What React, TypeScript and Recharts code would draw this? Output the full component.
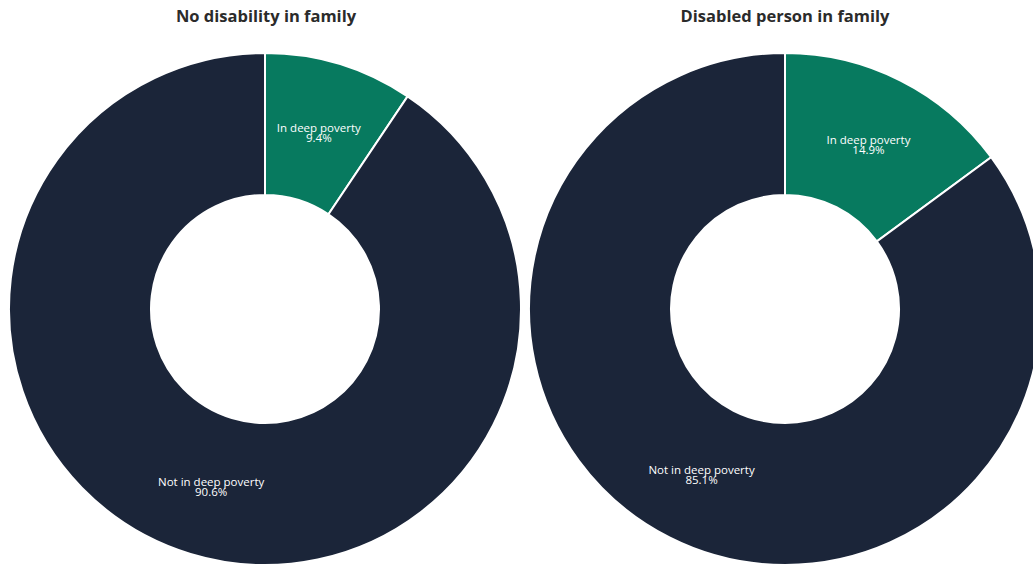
import React from 'react';
import { PieChart, Pie, Cell } from 'recharts';

const categories = ['In deep poverty', 'Not in deep poverty'];
const noDisabilityValues = [9.4, 90.6];
const disabledValues = [14.9, 85.1];
const chartTitles = ['No disability in family', 'Disabled person in family'];

const colors = ['#077a5f', '#1b2539'];

const noDisabilityData = categories.map((name, i) => ({ name, value: noDisabilityValues[i] }));
const disabledData = categories.map((name, i) => ({ name, value: disabledValues[i] }));

const RADIAN = Math.PI / 180;

// two-line label sitting halfway between inner and outer radius
const renderLabel = (props: any) => {
  const { cx, cy, midAngle, innerRadius, outerRadius, name, value } = props;
  const r = innerRadius + (outerRadius - innerRadius) / 2;
  const x = cx + r * Math.cos(-midAngle * RADIAN);
  const y = cy + r * Math.sin(-midAngle * RADIAN);
  return (
    <text
      x={x}
      y={y}
      fill="#ffffff"
      textAnchor="middle"
      fontSize={11.5}
      fontFamily="'Open Sans', sans-serif"
    >
      <tspan x={x} y={y}>{name}</tspan>
      <tspan x={x} y={y + 10}>{value.toFixed(1)}%</tspan>
    </text>
  );
};

export default function App() {
  const titleStyle: React.CSSProperties = {
    position: 'absolute',
    top: 4,
    width: 300,
    textAlign: 'center',
    fontFamily: "'Open Sans', sans-serif",
    fontWeight: 700,
    fontSize: 16.5,
    color: '#2b2b2b',
  };
  return (
    <div style={{ position: 'absolute', left: 0, top: 0, width: 1033, height: 568, background: '#fff', overflow: 'hidden' }}>
      <div style={{ ...titleStyle, left: 266 - 150 }}>{chartTitles[0]}</div>
      <div style={{ ...titleStyle, left: 785 - 150 }}>{chartTitles[1]}</div>
      <PieChart
        width={1033}
        height={568}
        margin={{ top: 0, right: 0, bottom: 0, left: 0 }}
        style={{ position: 'absolute', left: 0, top: 0 }}
      >
        <Pie
          data={noDisabilityData}
          dataKey="value"
          nameKey="name"
          cx={265}
          cy={309}
          innerRadius={114}
          outerRadius={256}
          startAngle={90}
          endAngle={-270}
          stroke="#ffffff"
          strokeWidth={2}
          label={renderLabel}
          labelLine={false}
          isAnimationActive={false}
        >
          {noDisabilityData.map((d, i) => (
            <Cell key={d.name} fill={colors[i]} />
          ))}
        </Pie>
        <Pie
          data={disabledData}
          dataKey="value"
          nameKey="name"
          cx={785}
          cy={309}
          innerRadius={114}
          outerRadius={256}
          startAngle={90}
          endAngle={-270}
          stroke="#ffffff"
          strokeWidth={2}
          label={renderLabel}
          labelLine={false}
          isAnimationActive={false}
        >
          {disabledData.map((d, i) => (
            <Cell key={d.name} fill={colors[i]} />
          ))}
        </Pie>
      </PieChart>
    </div>
  );
}
